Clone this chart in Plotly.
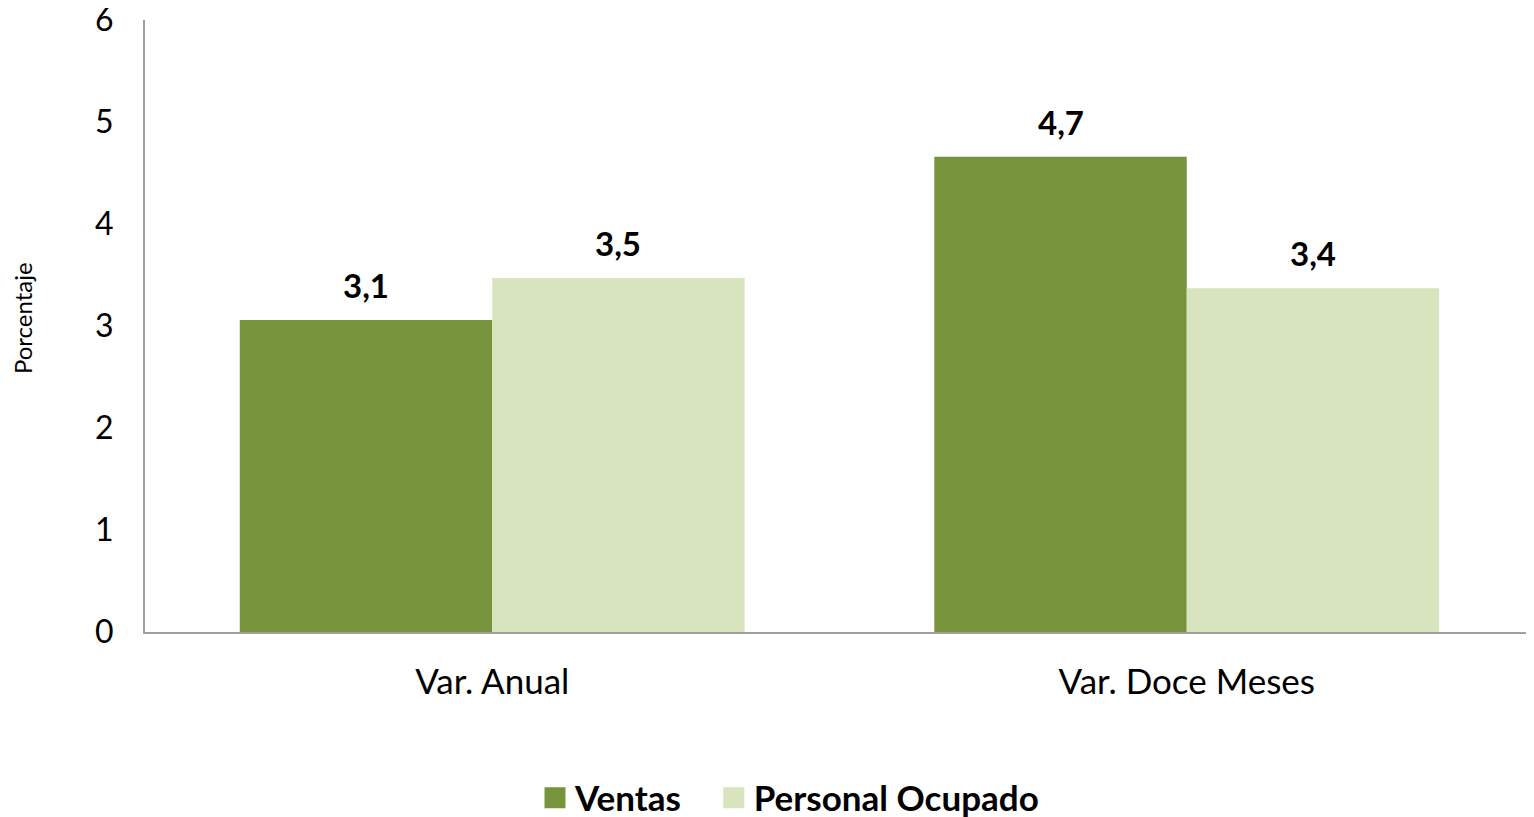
import plotly.graph_objects as go

categories = ["Var. Anual", "Var. Doce Meses"]
series_names = ["Ventas", "Personal Ocupado"]
ventas = [3.06, 4.66]
personal = [3.47, 3.37]
ventas_labels = ["3,1", "4,7"]
personal_labels = ["3,5", "3,4"]
y_ticks = [0, 1, 2, 3, 4, 5, 6]

colors = ["#77933C", "#D7E4BD"]
FONT = "Lato, Carlito, Calibri, sans-serif"

# page has an 8px body margin: compensate so the plot lands where the reference has it
OFF = 8
W, H = 1534 - OFF, 817 - OFF
ML, MR, MT, MB = 145 - OFF, 0, 20 - OFF, 185
BARGAP = 0.273

fig = go.Figure()
for name, vals, col in zip(series_names, [ventas, personal], colors):
    fig.add_trace(go.Bar(
        name=name, x=categories, y=vals, showlegend=False,
        marker=dict(color=col, line=dict(width=0)),
    ))
# legend entries with larger square symbols
legend_pad = ["\u00a0\u00a0\u00a0", ""]
for name, col, pad in zip(series_names, colors, legend_pad):
    fig.add_trace(go.Scatter(
        x=[None], y=[None], mode="markers", name=f"<b>{name}</b>{pad}",
        marker=dict(symbol="square", size=16, color=col, line=dict(color=col, width=5)),
    ))

plot_w = W - ML - MR
plot_h = H - MT - MB
bar_px = plot_w / len(categories) * (1 - BARGAP) / 2
annotations = []
for j, (vals, labs) in enumerate([(ventas, ventas_labels), (personal, personal_labels)]):
    for cat, v, lab in zip(categories, vals, labs):
        annotations.append(dict(
            x=cat, y=v, xref="x", yref="y", text=f"<b>{lab}</b>", showarrow=False,
            xanchor="center", yanchor="bottom", xshift=(j - 0.5) * bar_px, yshift=13,
            font=dict(family=FONT, size=33, color="#000000"),
        ))
annotations.append(dict(text="Porcentaje", xref="paper", yref="paper",
                        x=(22 - 145) / plot_w, y=0.513,
                        xanchor="center", yanchor="middle",
                        textangle=-90, showarrow=False,
                        font=dict(family=FONT, size=24, color="#000000")))

fig.update_layout(
    width=W, height=H,
    margin=dict(l=ML, r=MR, t=MT, b=MB, autoexpand=False),
    paper_bgcolor="white", plot_bgcolor="white",
    barmode="group", bargap=BARGAP, bargroupgap=0,
    font=dict(family=FONT, color="#000000"),
    showlegend=True,
    legend=dict(orientation="h", x=(535 - 145) / plot_w, xanchor="left",
                y=(632 - 798) / plot_h, yanchor="middle",
                font=dict(family=FONT, size=35, color="#000000"),
                traceorder="normal", itemwidth=30),
    xaxis=dict(showline=True, linecolor="#A0A0A0", linewidth=2, ticks="", automargin=False,
               tickfont=dict(family=FONT, size=35, color="#000000"),
               ticklabelstandoff=18, showgrid=False, ticklabeloverflow="allow"),
    yaxis=dict(range=[0, 6], tickvals=y_ticks, showline=True, linecolor="#A0A0A0", linewidth=2,
               ticks="", showgrid=False, zeroline=False, automargin=False,
               tickfont=dict(family=FONT, size=32, color="#000000"),
               ticklabelstandoff=23, ticklabeloverflow="allow"),
    annotations=annotations,
)

fig.write_html("out.html")
